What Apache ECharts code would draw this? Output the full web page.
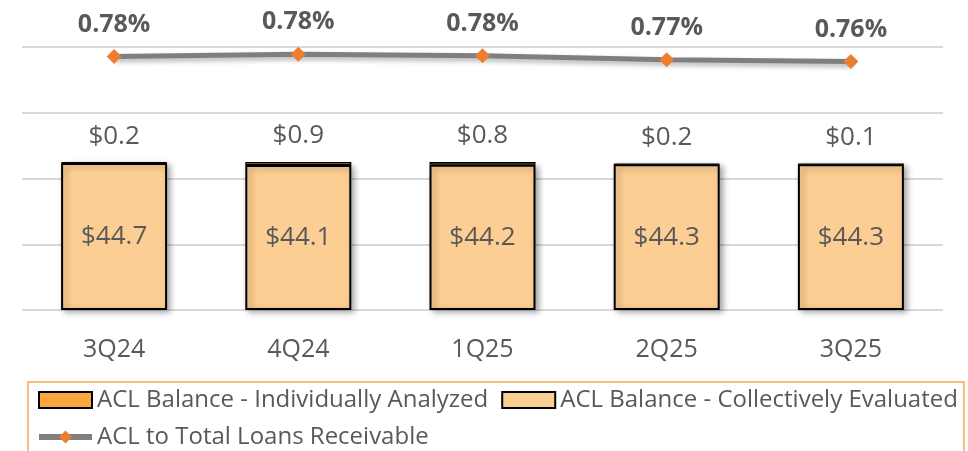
<!DOCTYPE html>
<html>
<head>
<meta charset="utf-8">
<script src="https://cdn.jsdelivr.net/npm/echarts@6/dist/echarts.min.js"></script>
<style>
  html, body { margin: 0; padding: 0; background: #fff; }
  #chart { width: 968px; height: 451px; }
</style>
</head>
<body>
<div id="chart"></div>
<script>
// quarters
const quarters = ['3Q24', '4Q24', '1Q25', '2Q25', '3Q25'];
// ACL balances ($M)
const individuallyAnalyzed = [0.2, 0.9, 0.8, 0.2, 0.1];
const collectivelyEvaluated = [44.7, 44.1, 44.2, 44.3, 44.3];
// ACL to total loans receivable (%)
const aclRatio = [0.776, 0.783, 0.778, 0.766, 0.761];

const textGray = '#595959';
const font = '"Open Sans", "Noto Sans", sans-serif';

const chart = echarts.init(document.getElementById('chart'));

const barShadow = {
  shadowColor: 'rgba(0,0,0,0.35)',
  shadowBlur: 6,
  shadowOffsetX: 3,
  shadowOffsetY: 2
};

const option = {
  animation: false,
  backgroundColor: '#fff',
  textStyle: { fontFamily: font },
  grid: { left: 22, right: 25, top: 47, bottom: 141 },
  legend: {
    left: 28,
    top: 382,
    width: 940,
    padding: [6, 6, 10, 8],
    borderColor: '#F5A94F',
    borderWidth: 1.5,
    itemWidth: 53,
    itemHeight: 16,
    itemGap: 13,
    lineStyle: { width: 6, color: '#7F7F7F' },
    textStyle: { color: textGray, fontSize: 24, fontFamily: font, padding: [0, 6, 0, 0] },
    data: [
      { name: 'ACL Balance - Individually Analyzed', icon: 'rect' },
      { name: 'ACL Balance - Collectively Evaluated', icon: 'rect' },
      { name: 'ACL to Total Loans Receivable' }
    ]
  },
  xAxis: {
    type: 'category',
    data: quarters,
    axisLine: { show: false },
    axisTick: { show: false },
    axisLabel: { color: textGray, fontSize: 25, margin: 27, fontFamily: font }
  },
  yAxis: [
    {
      type: 'value',
      min: 0,
      max: 80,
      interval: 20,
      axisLabel: { show: false },
      axisLine: { show: false },
      axisTick: { show: false },
      splitLine: { lineStyle: { color: '#D9D9D9', width: 2 } }
    },
    {
      type: 'value',
      min: 0,
      max: 0.805,
      alignTicks: false,
      axisLabel: { show: false },
      axisLine: { show: false },
      axisTick: { show: false },
      splitLine: { show: false }
    }
  ],
  series: [
    {
      name: 'ACL Balance - Collectively Evaluated',
      type: 'bar',
      stack: 'acl',
      barWidth: 106,
      data: collectivelyEvaluated,
      itemStyle: Object.assign({ color: '#FDCE93', borderColor: '#000', borderWidth: 2 }, barShadow),
      label: {
        show: true,
        position: 'inside',
        color: textGray,
        fontSize: 26,
        fontFamily: font,
        formatter: p => '$' + p.value.toFixed(1)
      },
      z: 2
    },
    {
      name: 'ACL Balance - Individually Analyzed',
      type: 'bar',
      stack: 'acl',
      barWidth: 106,
      data: individuallyAnalyzed,
      itemStyle: { color: '#F9A73E', borderColor: '#000', borderWidth: 1.2 },
      label: {
        show: true,
        position: 'top',
        distance: 13,
        color: textGray,
        fontSize: 26,
        fontFamily: font,
        formatter: p => '$' + p.value.toFixed(1)
      },
      z: 3
    },
    {
      name: 'ACL to Total Loans Receivable',
      type: 'line',
      yAxisIndex: 1,
      data: aclRatio,
      symbol: 'diamond',
      symbolSize: 15,
      lineStyle: {
        color: '#7F7F7F',
        width: 5,
        shadowColor: 'rgba(0,0,0,0.3)',
        shadowBlur: 5,
        shadowOffsetX: 2,
        shadowOffsetY: 3
      },
      itemStyle: { color: '#ED7D31' },
      label: {
        show: true,
        position: 'top',
        distance: 12,
        color: textGray,
        fontSize: 25,
        fontWeight: 'bold',
        fontFamily: font,
        formatter: p => p.value.toFixed(2) + '%'
      },
      z: 5
    }
  ]
};

chart.setOption(option);
</script>
</body>
</html>
